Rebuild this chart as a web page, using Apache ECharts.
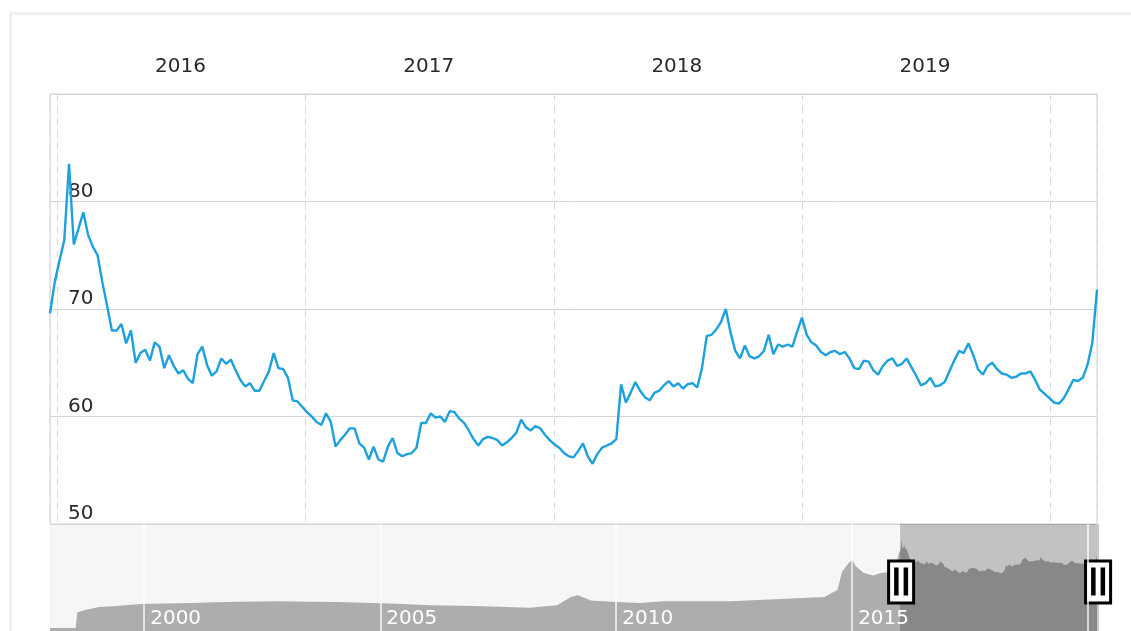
<!DOCTYPE html>
<html><head><meta charset="utf-8">
<script src="https://cdn.jsdelivr.net/npm/echarts@6/dist/echarts.min.js"></script>
<style>
html,body{margin:0;padding:0;background:#fff;overflow:hidden;}
#frame{position:absolute;left:9px;top:12px;width:1200px;height:700px;border-top:3px solid #f0f0f0;border-left:3px solid #f0f0f0;}
#chart{position:absolute;left:0;top:0;width:1131px;height:631px;}
</style></head><body>
<div id="frame"></div><div id="chart"></div>
<script>
// ---- data ----
// recent weekly readings, first one on 2015-12-22, one per week
const recentStart = [2015, 11, 22];
const recentStepDays = 7;
const recentValues = [
  69.6, 72.5, 74.5, 76.4, 83.5, 76.0, 77.5, 79.0, 76.9, 75.8,
  75.0, 72.5, 70.3, 68.0, 68.0, 68.6, 66.8, 68.0, 65.0, 65.9,
  66.2, 65.2, 66.9, 66.5, 64.5, 65.7, 64.7, 64.0, 64.3, 63.5,
  63.1, 65.8, 66.5, 64.8, 63.8, 64.2, 65.4, 64.9, 65.3, 64.3,
  63.4, 62.8, 63.1, 62.4, 62.4, 63.3, 64.2, 65.9, 64.5, 64.4,
  63.6, 61.5, 61.4, 60.9, 60.4, 60.0, 59.5, 59.2, 60.3, 59.5,
  57.2, 57.8, 58.3, 58.9, 58.9, 57.5, 57.1, 56.0, 57.2, 56.0,
  55.8, 57.2, 58.0, 56.6, 56.3, 56.5, 56.6, 57.1, 59.4, 59.4,
  60.3, 59.9, 60.0, 59.5, 60.5, 60.4, 59.8, 59.4, 58.7, 57.9,
  57.3, 57.9, 58.1, 58.0, 57.8, 57.3, 57.6, 58.0, 58.5, 59.7,
  59.0, 58.7, 59.1, 58.9, 58.3, 57.8, 57.4, 57.1, 56.6, 56.3,
  56.2, 56.8, 57.5, 56.3, 55.6, 56.5, 57.1, 57.3, 57.5, 57.9,
  63.0, 61.3, 62.2, 63.2, 62.4, 61.8, 61.5, 62.2, 62.4, 62.9,
  63.3, 62.8, 63.1, 62.6, 63.0, 63.1, 62.7, 64.5, 67.5, 67.6,
  68.1, 68.8, 70.0, 67.8, 66.1, 65.4, 66.6, 65.6, 65.4, 65.6,
  66.1, 67.6, 65.8, 66.7, 66.5, 66.7, 66.5, 67.9, 69.2, 67.6,
  66.9, 66.6, 66.0, 65.7, 66.0, 66.1, 65.8, 66.0, 65.4, 64.5,
  64.4, 65.2, 65.1, 64.3, 63.9, 64.7, 65.2, 65.4, 64.7, 64.9,
  65.4, 64.6, 63.8, 62.9, 63.1, 63.6, 62.8, 62.9, 63.2, 64.2,
  65.2, 66.1, 65.9, 66.8, 65.7, 64.4, 63.9, 64.7, 65.0, 64.4,
  64.0, 63.9, 63.6, 63.7, 64.0, 64.0, 64.2, 63.4, 62.5, 62.1,
  61.7, 61.3, 61.2, 61.7, 62.5, 63.4, 63.3, 63.6, 64.8, 66.8, 71.8
];
// earlier history, only visible in the navigator
const historyDates = [
  '1998-01-02','1998-07-20','1998-08-01','1998-10-01','1999-01-15','1999-06-01','1999-12-01',
  '2000-06-01','2001-01-01','2001-07-01','2002-01-01','2002-11-01','2003-07-01','2004-02-01',
  '2004-11-01','2005-07-01','2006-01-15','2007-01-01','2008-03-01','2008-10-01','2009-01-15',
  '2009-03-10','2009-06-20','2009-12-01','2010-07-01','2011-01-01','2012-06-01','2013-01-01',
  '2013-11-01','2014-06-01','2014-09-10','2014-10-15','2014-12-10','2015-01-05','2015-01-25',
  '2015-04-01','2015-06-15','2015-08-10','2015-11-20'
];
const historyValues = [
  10, 10, 23, 25, 27.5, 28.5, 30,
  30.5, 31, 31.5, 32, 32.5, 32, 31.7,
  31, 30, 29, 28.5, 27, 29, 36,
  37.5, 33, 32, 31, 32.5, 32.5, 33.5,
  35, 36, 42, 57, 65, 67, 62,
  56, 54, 56, 57
];
const yMin = 50, yMax = 90, yStep = 10;
const navYMax = 97;
const navLineYears = [2000, 2005, 2010, 2015, 2020];
const navLabelYears = [2000, 2005, 2010, 2015];

// ---- build ----
function parseDay(s){ const p = s.split('-').map(Number); return new Date(p[0], p[1]-1, p[2]).getTime(); }
const recentTimes = recentValues.map((v, k) => new Date(recentStart[0], recentStart[1], recentStart[2] + recentStepDays * k).getTime());
const allData = historyDates.map((d, i) => [parseDay(d), historyValues[i]])
  .concat(recentValues.map((v, k) => [recentTimes[k], v]));
const windowStart = recentTimes[0];
const windowEnd = recentTimes[recentTimes.length - 1];
const dataStart = allData[0][0];
const DAY = 86400000;
const FONT = 'DejaVu Sans';

const chart = echarts.init(document.getElementById('chart'), null, {renderer: 'canvas'});
chart.setOption({
  animation: false,
  textStyle: {fontFamily: FONT},
  grid: [
    {left: 50, right: 34, top: 94, bottom: 107, show: true, borderColor: '#d0d0d0', borderWidth: 1,
     backgroundColor: 'transparent', containLabel: false, outerBoundsMode: 'none'},
    {left: 50, right: 34, top: 524, height: 116, show: true, borderWidth: 0,
     backgroundColor: '#f6f6f6', containLabel: false, outerBoundsMode: 'none'}
  ],
  xAxis: [
    {type: 'time', gridIndex: 0, position: 'top', minInterval: 365 * DAY, maxInterval: 366 * DAY,
     axisLine: {show: false}, axisTick: {show: false}, axisLabel: {show: false},
     splitLine: {show: true, lineStyle: {color: '#d9d9d9', width: 1, type: [7, 5]}}},
    {type: 'time', gridIndex: 1, min: dataStart, max: windowEnd, minInterval: 365 * DAY, maxInterval: 366 * DAY, z: 10,
     axisLine: {show: false}, axisTick: {show: false}, splitLine: {show: false},
     axisLabel: {inside: true, color: '#ffffff', fontSize: 20, fontFamily: FONT, align: 'left', padding: [0, 0, 0, 6], margin: 11,
       formatter: function (v) { const d = new Date(v); return (d.getMonth() === 0 && d.getDate() === 1 && navLabelYears.indexOf(d.getFullYear()) >= 0) ? String(d.getFullYear()) : ''; }}},
    {type: 'time', gridIndex: 0, position: 'top', min: windowStart, max: windowEnd, minInterval: 181 * DAY, maxInterval: 184 * DAY,
     axisLine: {show: false}, axisTick: {show: false}, splitLine: {show: false},
     axisLabel: {color: '#2a2a2a', fontSize: 20, fontFamily: FONT, margin: 17,
       formatter: function (v) { const d = new Date(v); return (d.getMonth() === 6 && d.getDate() === 1) ? String(d.getFullYear()) : ''; }}}
  ],
  yAxis: [
    {type: 'value', gridIndex: 0, min: yMin, max: yMax, interval: yStep,
     axisLine: {show: false}, axisTick: {show: false},
     splitLine: {show: true, lineStyle: {color: '#d4d4d4', width: 1}},
     axisLabel: {inside: true, showMaxLabel: false, align: 'left', verticalAlign: 'bottom', margin: 18,
       color: '#2a2a2a', fontSize: 20, fontFamily: FONT}},
    {type: 'value', gridIndex: 1, min: 0, max: navYMax, show: false}
  ],
  dataZoom: [{
    type: 'slider', xAxisIndex: 0, filterMode: 'filter', startValue: windowStart, endValue: windowEnd,
    left: 50, right: 34, top: 524, height: 116,
    showDataShadow: false, showDetail: false, brushSelect: false, moveHandleSize: 0, realtime: false,
    backgroundColor: 'transparent', borderColor: 'transparent', borderRadius: 0,
    fillerColor: 'rgba(0,0,0,0.21)',
    handleIcon: 'path://M0,0H25V42H0Z M7,9H8.5V34H7Z M16.5,9H18V34H16.5Z',
    handleSize: 42,
    handleStyle: {color: '#ffffff', borderColor: '#000000', borderWidth: 3, opacity: 1, shadowBlur: 0},
    moveHandleStyle: {opacity: 0},
    emphasis: {handleStyle: {borderColor: '#000000', color: '#ffffff'}, moveHandleStyle: {opacity: 0}},
    dataBackground: {lineStyle: {opacity: 0}, areaStyle: {opacity: 0}},
    selectedDataBackground: {lineStyle: {opacity: 0}, areaStyle: {opacity: 0}}
  }],
  series: [
    {type: 'line', name: 'main', xAxisIndex: 0, yAxisIndex: 0, data: allData.map(p => p.slice()),
     symbol: 'none', showSymbol: false, silent: true, clip: true,
     lineStyle: {color: '#1da1dc', width: 2.4}, itemStyle: {color: '#1da1dc'}},
    {type: 'line', name: 'navigator', xAxisIndex: 1, yAxisIndex: 1, data: allData.map(p => p.slice()),
     symbol: 'none', showSymbol: false, silent: true,
     lineStyle: {width: 0, color: '#adadad'}, areaStyle: {color: '#adadad', opacity: 1},
     markLine: {silent: true, symbol: 'none', label: {show: false},
       lineStyle: {color: '#ffffff', width: 1.5, type: 'solid', opacity: 0.9},
       data: navLineYears.map(y => ({xAxis: new Date(y, 0, 1).getTime()}))}}
  ]
});
</script>
</body></html>
